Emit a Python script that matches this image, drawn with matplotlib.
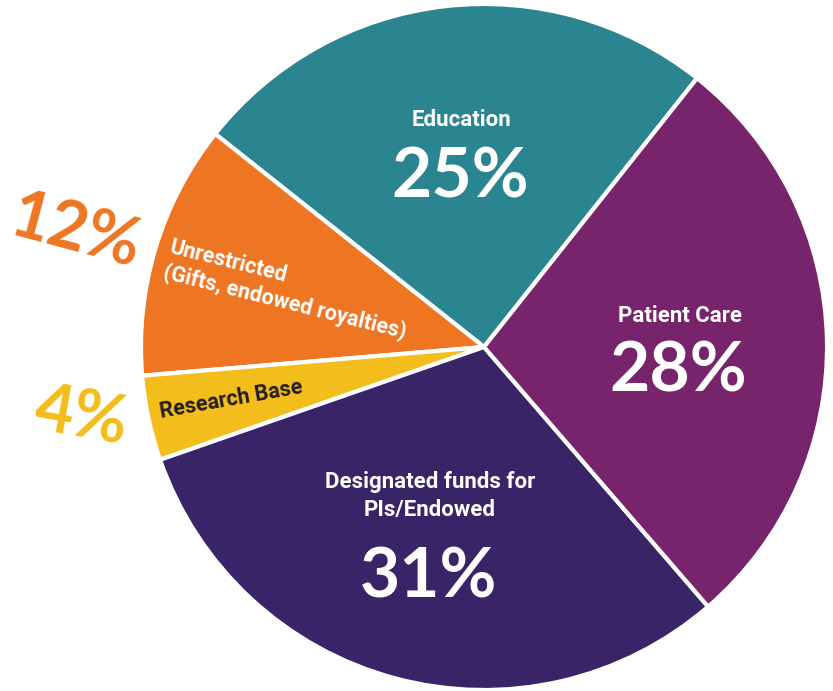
import matplotlib.pyplot as plt

# ----------------------------------------------------------------------
# data
# ----------------------------------------------------------------------
categories = ["Education", "Unrestricted", "Research Base",
              "Designated funds", "Patient Care"]
shares = [25, 12, 4, 31, 28]
colors = ["#2A8591", "#EE7623", "#F3BD1B", "#3A2468", "#77246D"]

label_font = ["Liberation Sans Narrow", "Roboto", "DejaVu Sans"]
pct_font = ["Lato", "Open Sans", "DejaVu Sans"]

# ----------------------------------------------------------------------
# figure in pixel coordinates (y up)
# ----------------------------------------------------------------------
W, H = 833, 691
fig = plt.figure(figsize=(W / 100, H / 100), dpi=100)
ax = fig.add_axes([0, 0, 1, 1])

cx, cy, r = 484, H - 347, 343
ax.pie(shares, colors=colors, startangle=51.6, counterclock=True,
       center=(cx, cy), radius=r, frame=True,
       wedgeprops=dict(edgecolor="white", linewidth=3))
ax.set_xlim(0, W)
ax.set_ylim(0, H)
ax.set_aspect("equal")
ax.axis("off")


def txt(x, y, s, size, color="white", family=label_font, weight="bold",
        rot=0, **kw):
    ax.text(x, H - y, s, fontsize=size, color=color, family=family,
            weight=weight, rotation=rot, ha="center", va="center",
            rotation_mode="anchor", **kw)


# inside labels
txt(461, 120, "Education", 16)
txt(460, 178, "25%", 50, family=pct_font)
txt(680, 316, "Patient Care", 16)
txt(678, 372, "28%", 50, family=pct_font)
txt(430, 496, "Designated funds for\nPIs/Endowed", 16, linespacing=1.35)
txt(428, 578, "31%", 50, family=pct_font)
txt(288, 290, "Unrestricted\n(Gifts, endowed royalties)", 15.5, rot=-14,
    multialignment="left", linespacing=1.2)
txt(231, 400, "Research Base", 15.5, color="#231F20", rot=10)

# outside percentages
txt(75, 233, "12%", 48, color=colors[1], family=pct_font, rot=-15)
txt(81, 418, "4%", 48, color=colors[2], family=pct_font, rot=-10)

fig.savefig("out.png", dpi=100)
